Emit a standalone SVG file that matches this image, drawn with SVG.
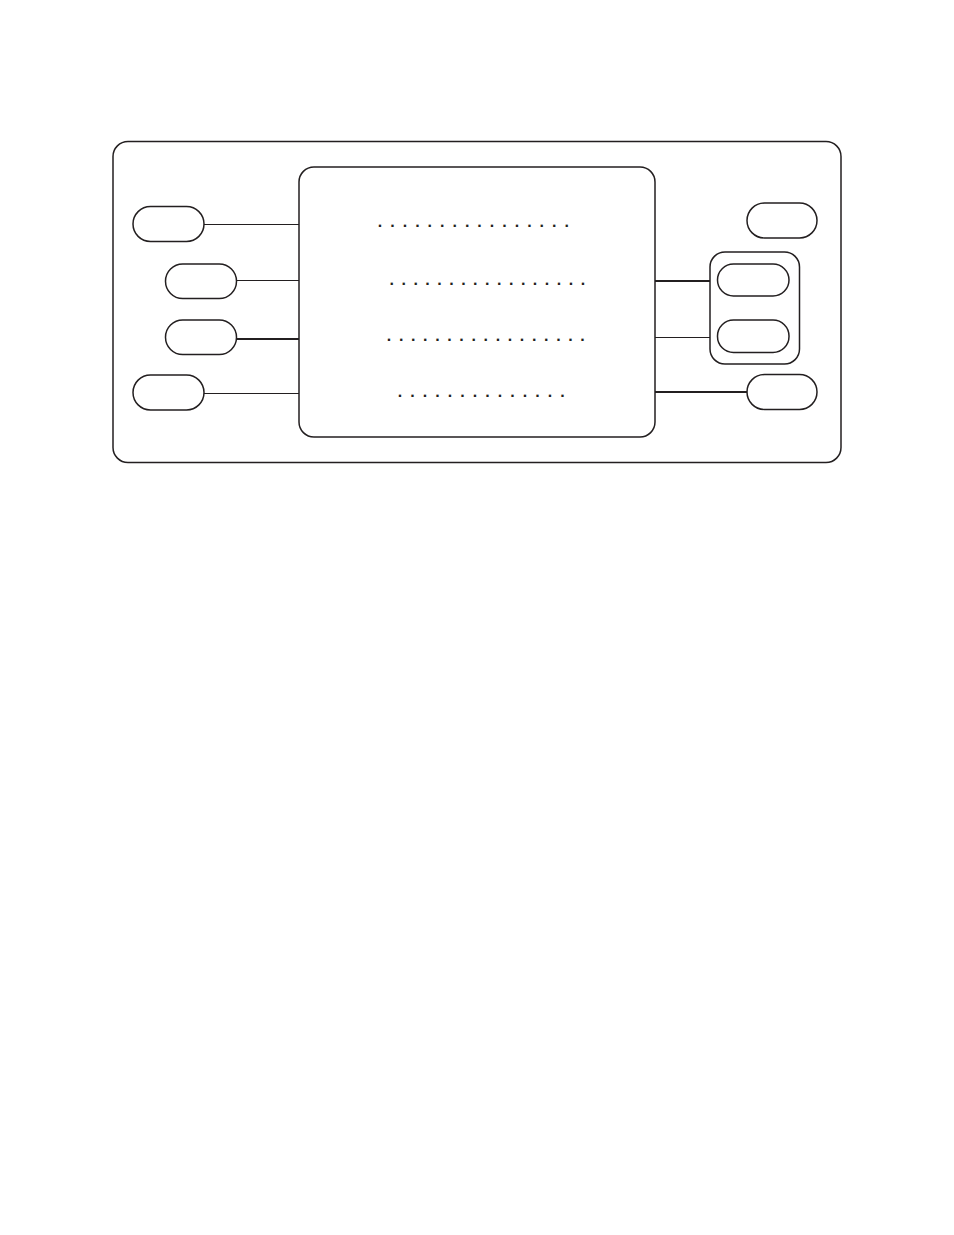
<svg xmlns="http://www.w3.org/2000/svg" width="954" height="1235" viewBox="0 0 954 1235">
<style>
.box{fill:none;stroke:#231f20;stroke-width:1.5}
.pill{fill:#fff;stroke:#231f20;stroke-width:1.5}
.ln{stroke:#231f20;stroke-width:1.2;fill:none}
.thk{stroke:#231f20;stroke-width:2;fill:none}
.dots{font-family:"Liberation Sans",Arial,sans-serif;font-size:16px;font-weight:bold;fill:#231f20;text-rendering:geometricPrecision}
</style>
<rect width="954" height="1235" fill="#fff"/>
<g id="frame"><rect class="box" x="113" y="141.5" width="728" height="321" rx="15"/></g>
<g id="connectors">
<line class="ln" x1="204" y1="224.5" x2="299" y2="224.5"/>
<line class="ln" x1="236.5" y1="280.5" x2="299" y2="280.5"/>
<line class="thk" x1="236.5" y1="339" x2="299" y2="339"/>
<line class="ln" x1="204" y1="393.5" x2="299" y2="393.5"/>
<line class="thk" x1="655" y1="281" x2="710" y2="281"/>
<line class="ln" x1="655" y1="337.5" x2="710" y2="337.5"/>
<line class="thk" x1="655" y1="392" x2="747" y2="392"/>
</g>
<g id="panel">
<rect class="box" x="299" y="167" width="356" height="270" rx="15"/>
<text class="dots" x="377.8" y="227" letter-spacing="8">................</text>
<text class="dots" x="389.5" y="284.5" letter-spacing="7.5">.................</text>
<text class="dots" x="386.8" y="340.5" letter-spacing="7.65">.................</text>
<text class="dots" x="397.8" y="397" letter-spacing="8.05">..............</text>
</g>
<g id="left1"><rect class="pill" x="133" y="206.5" width="71" height="35" rx="17.5"/></g>
<g id="left2"><rect class="pill" x="165.5" y="264" width="71" height="34.5" rx="17.25"/></g>
<g id="left3"><rect class="pill" x="165.5" y="320" width="71" height="34.5" rx="17.25"/></g>
<g id="left4"><rect class="pill" x="133" y="375" width="71" height="35" rx="17.5"/></g>
<g id="right-top"><rect class="pill" x="747" y="203" width="70" height="35" rx="17.5"/></g>
<g id="right-group">
<rect class="box" x="710" y="252" width="89.5" height="112" rx="15"/>
<rect class="pill" x="717.5" y="264" width="71.5" height="32" rx="16"/>
<rect class="pill" x="717.5" y="320" width="71.5" height="32.5" rx="16"/>
</g>
<g id="right-bottom"><rect class="pill" x="747" y="374.5" width="70" height="35" rx="17.5"/></g>
</svg>
